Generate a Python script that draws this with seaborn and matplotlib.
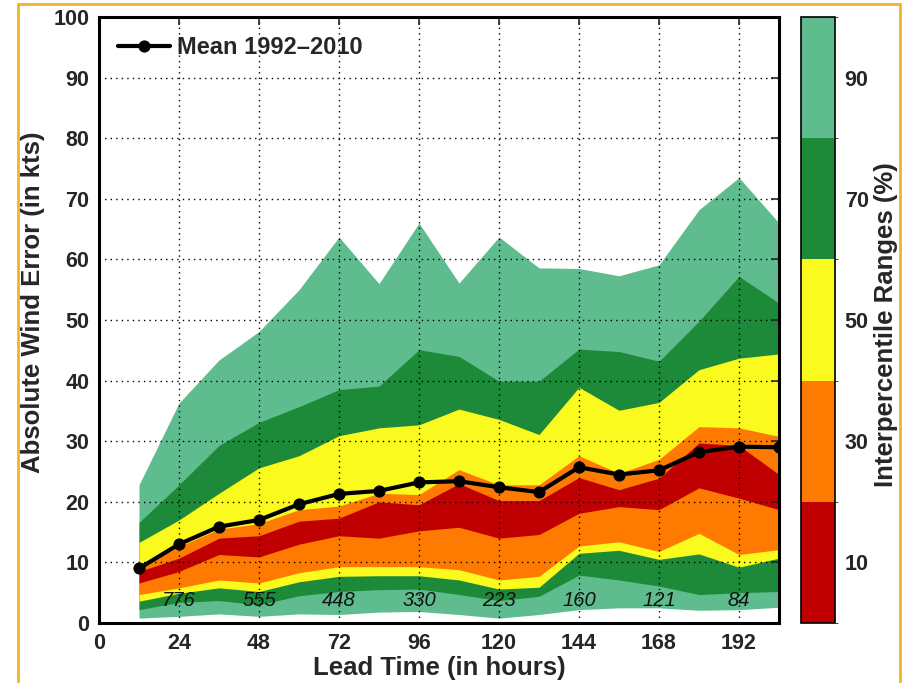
import numpy as np
import pandas as pd
import matplotlib
matplotlib.use("Agg")
import matplotlib.pyplot as plt
import seaborn as sns
from matplotlib.colors import ListedColormap, BoundaryNorm
from matplotlib.cm import ScalarMappable
from matplotlib.lines import Line2D

# ---------------- data ----------------
lead = [12, 24, 36, 48, 60, 72, 84, 96, 108, 120, 132, 144, 156, 168, 180, 192, 204]
mean = [9.0, 13.0, 15.9, 17.0, 19.6, 21.3, 21.8, 23.2, 23.4, 22.4, 21.6, 25.7, 24.5, 25.2, 28.2, 29.1, 29.0]
p95 = [22.8, 36.3, 43.4, 48.1, 55.0, 63.7, 56.0, 66.0, 56.1, 63.7, 58.6, 58.5, 57.3, 59.1, 68.2, 73.5, 66.0]
p85 = [16.6, 22.8, 29.3, 33.1, 35.7, 38.5, 39.1, 45.1, 44.0, 39.9, 39.9, 45.2, 44.8, 43.2, 49.8, 57.2, 52.8]
p75 = [13.3, 17.0, 21.4, 25.6, 27.6, 30.9, 32.2, 32.7, 35.3, 33.6, 31.1, 38.9, 35.1, 36.4, 41.8, 43.7, 44.4]
p65 = [9.5, 12.6, 15.5, 16.4, 18.7, 19.3, 21.4, 21.2, 25.3, 22.8, 22.8, 27.6, 24.7, 27.0, 32.4, 32.2, 30.8]
p55 = [8.5, 10.7, 14.0, 14.4, 16.8, 17.3, 20.0, 19.5, 23.0, 20.2, 20.2, 24.0, 22.0, 23.9, 29.7, 29.3, 24.5]
p45 = [6.6, 8.5, 11.3, 10.9, 13.0, 14.4, 14.0, 15.2, 15.8, 14.0, 14.6, 18.1, 19.2, 18.7, 22.3, 20.6, 18.7]
p35 = [4.7, 5.8, 7.1, 6.6, 8.3, 9.3, 9.3, 9.3, 8.8, 7.1, 7.7, 12.7, 13.4, 11.8, 14.8, 11.3, 12.1]
p25 = [3.6, 4.9, 5.8, 5.2, 6.8, 7.7, 7.8, 7.8, 7.1, 5.6, 5.9, 11.5, 12.0, 10.5, 11.4, 9.2, 10.7]
p15 = [2.2, 3.4, 3.7, 3.0, 4.5, 5.2, 5.5, 5.6, 4.7, 3.7, 4.4, 7.9, 7.1, 6.1, 4.7, 5.0, 5.2]
p5 = [0.8, 1.1, 1.5, 1.1, 1.5, 1.4, 1.8, 1.9, 1.4, 0.8, 1.4, 2.2, 2.5, 2.5, 2.1, 2.2, 2.6]

count_hours = [24, 48, 72, 96, 120, 144, 168, 192]
counts = [776, 555, 448, 330, 223, 160, 121, 84]

x_ticks = [0, 24, 48, 72, 96, 120, 144, 168, 192]
y_ticks = [0, 10, 20, 30, 40, 50, 60, 70, 80, 90, 100]
range_ticks = [10, 30, 50, 70, 90]
band_colors = ["#C00000", "#FF7A00", "#FAFA1E", "#1D8A3A", "#5FBC8E"]

df = pd.DataFrame({"lead": lead, "mean": mean})

# ---------------- style ----------------
sns.set_style("white")
plt.rcParams["font.family"] = ["Liberation Sans", "DejaVu Sans"]
plt.rcParams["font.weight"] = "bold"

fig = plt.figure(figsize=(9.04, 6.83), dpi=100)
ax = fig.add_axes([99 / 904, 60 / 683, 680 / 904, 606 / 683])

# nested bands: outer first
bands = [(p5, p95, band_colors[4]), (p15, p85, band_colors[3]),
         (p25, p75, band_colors[2]), (p35, p65, band_colors[1]),
         (p45, p55, band_colors[0])]
for lo, hi, c in bands:
    ax.fill_between(lead, lo, hi, color=c, linewidth=0, zorder=1)

sns.lineplot(data=df, x="lead", y="mean", ax=ax, color="black", linewidth=3,
             marker="o", markersize=8, markeredgecolor="black",
             label="Mean 1992\u20132010", zorder=5)

for h, n in zip(count_hours, counts):
    ax.text(h, 3.7, str(n), ha="center", va="center", fontsize=14.5,
            style="italic", fontweight="normal", color="#111111", zorder=4)

ax.set_xlim(0, 204)
ax.set_ylim(0, 100)
ax.set_xticks(x_ticks)
ax.set_yticks(y_ticks)
ax.grid(True, which="major", color="black", linestyle=(0, (1, 3)), linewidth=1.0, zorder=3)
ax.set_axisbelow(False)
ax.tick_params(direction="in", length=6, width=1.2, top=True, right=True,
               labelsize=15.5, pad=7)
for lab in ax.get_xticklabels() + ax.get_yticklabels():
    lab.set_fontweight("bold")
for sp in ax.spines.values():
    sp.set_visible(True)
    sp.set_linewidth(2.2)
    sp.set_color("black")
    sp.set_zorder(6)

ax.set_xlabel("Lead Time (in hours)", fontsize=18.5, fontweight="bold", labelpad=2)
ax.set_ylabel("Absolute Wind Error (in kts)", fontsize=18.5, fontweight="bold")
ax.yaxis.set_label_coords(-0.080, 0.53)

leg = ax.legend(loc="upper left", frameon=False, fontsize=17, handlelength=2.2,
                handletextpad=0.3, borderaxespad=0.4)
for t in leg.get_texts():
    t.set_fontweight("bold")

# ---------------- colorbar ----------------
cax = fig.add_axes([801 / 904, 60 / 683, 34 / 904, 606 / 683])
cmap = ListedColormap(band_colors)
norm = BoundaryNorm([0, 20, 40, 60, 80, 100], cmap.N)
sm = ScalarMappable(norm=norm, cmap=cmap)
cb = fig.colorbar(sm, cax=cax, ticks=range_ticks)
cb.outline.set_linewidth(1.2)
cb.outline.set_edgecolor("black")
cax.tick_params(direction="in", length=5, width=1, left=True, right=True,
                labelsize=15.5, pad=7)
for lab in cax.get_yticklabels():
    lab.set_fontweight("bold")
fig.text(886 / 904, 1 - 325 / 683, "Interpercentile Ranges (%)", rotation=90,
         ha="center", va="center", fontsize=18.5, fontweight="bold")

# ---------------- slide frame ----------------
fc = "#F0B428"
fig.add_artist(Line2D([18 / 904, 900 / 904], [1 - 4 / 683, 1 - 4 / 683],
                      transform=fig.transFigure, color=fc, linewidth=2))
fig.add_artist(Line2D([18 / 904, 18 / 904], [0, 1 - 4 / 683],
                      transform=fig.transFigure, color=fc, linewidth=2))
fig.add_artist(Line2D([900 / 904, 900 / 904], [0, 1 - 4 / 683],
                      transform=fig.transFigure, color=fc, linewidth=2))

fig.savefig("out.png", dpi=100)
